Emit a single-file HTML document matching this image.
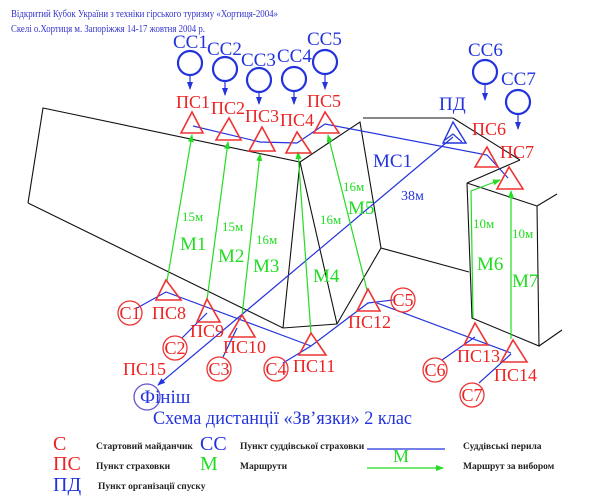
<!DOCTYPE html>
<html><head><meta charset="utf-8"><style>
html,body{margin:0;padding:0;background:#fff;}
svg{display:block;}
text{font-family:"Liberation Serif",serif;}
</style></head><body>
<svg width="600" height="497" viewBox="0 0 600 497" xmlns="http://www.w3.org/2000/svg">
<defs>
<marker id="ag" markerWidth="8" markerHeight="8" refX="7" refY="4" orient="auto" markerUnits="userSpaceOnUse"><path d="M0,1 L8,4 L0,7z" fill="#22dd22"/></marker>
<marker id="ab" markerWidth="8" markerHeight="8" refX="7" refY="4" orient="auto" markerUnits="userSpaceOnUse"><path d="M0,1 L8,4 L0,7z" fill="#2233dd"/></marker>
</defs>
<text x="11" y="17" font-size="10.5" fill="#3333cc" textLength="267" lengthAdjust="spacingAndGlyphs">Відкритий Кубок України з техніки гірського туризму «Хортиця-2004»</text>
<text x="11" y="32" font-size="10.5" fill="#3333cc" textLength="194" lengthAdjust="spacingAndGlyphs">Скелі о.Хортиця м. Запоріжжя 14-17 жовтня 2004 р.</text>

<g stroke="#111" stroke-width="1.1" fill="none">
<polyline points="28,203 43,108 300,162 360,122 381,248 337,324 283,328 28,203"/>
<line x1="300" y1="162" x2="283" y2="328"/>
<line x1="300" y1="162" x2="337" y2="324"/>
<line x1="363" y1="118" x2="453" y2="118"/>
<line x1="453" y1="118" x2="520" y2="160"/>
<line x1="467" y1="183" x2="520" y2="160"/>
<line x1="381" y1="248" x2="469" y2="272"/>
<polyline points="467,183 472,318 539,346 537,206 467,183"/>
<line x1="537" y1="206" x2="557" y2="194"/>
<line x1="539" y1="346" x2="562" y2="330"/>
</g>

<g stroke="#2233dd" stroke-width="2.2" fill="none">
<circle cx="190" cy="63" r="12"/><circle cx="225" cy="69" r="12"/><circle cx="259" cy="80" r="12"/>
<circle cx="294" cy="79" r="12"/><circle cx="325" cy="62" r="12"/><circle cx="485" cy="72" r="12"/><circle cx="518" cy="102" r="12"/>
</g>
<g stroke="#2233dd" stroke-width="1.2">
<line x1="190" y1="75" x2="190" y2="89" marker-end="url(#ab)"/>
<line x1="225" y1="81" x2="225" y2="95" marker-end="url(#ab)"/>
<line x1="259" y1="92" x2="259" y2="104" marker-end="url(#ab)"/>
<line x1="294" y1="91" x2="294" y2="104" marker-end="url(#ab)"/>
<line x1="325" y1="74" x2="325" y2="89" marker-end="url(#ab)"/>
<line x1="485" y1="84" x2="485" y2="100" marker-end="url(#ab)"/>
<line x1="518" y1="114" x2="518" y2="129" marker-end="url(#ab)"/>
</g>
<g fill="#2233dd" font-size="19">
<text x="173" y="48">СС1</text><text x="207" y="55">СС2</text><text x="241" y="66">СС3</text>
<text x="277" y="62">СС4</text><text x="307" y="45">СС5</text><text x="468" y="56">СС6</text><text x="501" y="85">СС7</text>
<text x="439" y="110">ПД</text>
<text x="373" y="167" font-size="19">МС1</text>
<text x="401" y="200" font-size="14">38м</text>
</g>

<g stroke="#2233dd" stroke-width="1.2" fill="none">
<polyline points="193,126 260,142 297,143 325,124 487,155 508,178"/>
<polyline points="137,308 166,292 311,346"/>
<line x1="182" y1="338" x2="207" y2="313"/>
<line x1="223" y1="357" x2="237" y2="328"/>
<polyline points="283,363 311,346 368,303 393,300"/>
<line x1="377" y1="303" x2="511" y2="353"/>
<line x1="442" y1="360" x2="475" y2="337"/>
<line x1="479" y1="383" x2="511" y2="354"/>
<line x1="453" y1="137" x2="158" y2="385" marker-end="url(#ab)"/>
<polyline points="445,140 453,134 462,142"/>
</g>

<g stroke="#22dd22" stroke-width="1.2" fill="none">
<line x1="167" y1="281" x2="192" y2="135" marker-end="url(#ag)"/>
<line x1="207" y1="300" x2="228" y2="142" marker-end="url(#ag)"/>
<line x1="242" y1="316" x2="260" y2="154" marker-end="url(#ag)"/>
<line x1="311" y1="334" x2="298" y2="152" marker-end="url(#ag)"/>
<line x1="367" y1="290" x2="328" y2="135" marker-end="url(#ag)"/>
<polyline points="473,318 471,191 500,180" marker-end="url(#ag)"/>
<line x1="511" y1="339" x2="511" y2="191" marker-end="url(#ag)"/>
</g>
<g fill="#22dd22">
<text x="182" y="221" font-size="13">15м</text><text x="180" y="250" font-size="19">М1</text>
<text x="222" y="231" font-size="13">15м</text><text x="218" y="262" font-size="19">М2</text>
<text x="256" y="244" font-size="13">16м</text><text x="253" y="272" font-size="19">М3</text>
<text x="320" y="224" font-size="13">16м</text><text x="313" y="282" font-size="19">М4</text>
<text x="343" y="191" font-size="13">16м</text><text x="348" y="214" font-size="19">М5</text>
<text x="473" y="228" font-size="13">10м</text><text x="477" y="270" font-size="19">М6</text>
<text x="512" y="238" font-size="13">10м</text><text x="512" y="287" font-size="19">М7</text>
</g>

<g stroke="#ee3333" stroke-width="1.6" fill="none">
<polygon points="192,112 181,133 203,133"/>
<polygon points="229,118 216,140 241,140"/>
<polygon points="262,127 249,151 275,151"/>
<polygon points="297,132 286,153 311,153"/>
<polygon points="325,112 314,133 339,133"/>
<polygon points="487,147 475,167 498,167"/>
<polygon points="509,167 497,189 523,189"/>
<polygon points="166,280 156,300 181,300"/>
<polygon points="207,299 197,322 220,322"/>
<polygon points="242,315 229,337 255,337"/>
<polygon points="311,333 299,355 326,355"/>
<polygon points="368,289 357,311 380,311"/>
<polygon points="475,323 464,345 488,345"/>
<polygon points="513,340 501,362 527,362"/>
</g>
<polygon points="453,122 443,143 466,143" stroke="#2233dd" stroke-width="1.4" fill="none"/>

<g stroke="#ee3333" stroke-width="1.3" fill="none">
<circle cx="130" cy="313" r="12"/><circle cx="175" cy="348" r="12"/><circle cx="219" cy="369" r="12"/>
<circle cx="276" cy="369" r="12"/><circle cx="403" cy="300" r="12"/><circle cx="435" cy="370" r="12"/><circle cx="472" cy="395" r="12"/>
</g>
<circle cx="147" cy="397" r="13" stroke="#6655cc" stroke-width="1.3" fill="none"/>

<g fill="#ee2222" font-size="18">
<text x="176" y="108">ПС1</text><text x="211" y="114">ПС2</text><text x="245" y="122">ПС3</text>
<text x="280" y="126">ПС4</text><text x="307" y="107">ПС5</text>
<text x="472" y="135">ПС6</text><text x="500" y="158">ПС7</text>
<text x="152" y="319">ПС8</text><text x="190" y="337">ПС9</text><text x="223" y="353">ПС10</text>
<text x="293" y="372">ПС11</text><text x="348" y="328">ПС12</text><text x="457" y="362">ПС13</text>
<text x="494" y="381">ПС14</text><text x="123" y="375">ПС15</text>
<g font-size="18" text-anchor="middle">
<text x="130" y="319">С1</text><text x="175" y="354">С2</text><text x="219" y="375">С3</text>
<text x="276" y="375">С4</text><text x="403" y="306">С5</text><text x="435" y="376">С6</text><text x="472" y="401">С7</text>
</g>
</g>
<text x="140" y="403" font-size="19" fill="#2233dd">Фініш</text>
<text x="153" y="424" font-size="19" fill="#2233dd" textLength="259" lengthAdjust="spacingAndGlyphs">Схема дистанції «Зв’язки» 2 клас</text>

<g font-size="20">
<text x="53" y="450" fill="#ee2222">С</text>
<text x="53" y="470" fill="#ee2222">ПС</text>
<text x="53" y="491" fill="#2233dd">ПД</text>
<text x="200" y="450" fill="#2233dd">СС</text>
<text x="200" y="470" fill="#22dd22">М</text>
<text x="393" y="462" fill="#22dd22" font-size="18">М</text>
</g>
<g font-size="9.5" fill="#222" font-weight="bold">
<text x="96" y="449">Стартовий майданчик</text>
<text x="96" y="469">Пункт страховки</text>
<text x="98" y="489">Пункт організації спуску</text>
<text x="240" y="449">Пункт суддівської страховки</text>
<text x="240" y="469">Маршрути</text>
<text x="463" y="449">Суддівські перила</text>
<text x="463" y="469">Маршрут за вибором</text>
</g>
<line x1="367" y1="449" x2="445" y2="449" stroke="#2233dd" stroke-width="1.3"/>
<line x1="367" y1="468" x2="443" y2="468" stroke="#22dd22" stroke-width="1.3" marker-end="url(#ag)"/>
</svg>
</body></html>
